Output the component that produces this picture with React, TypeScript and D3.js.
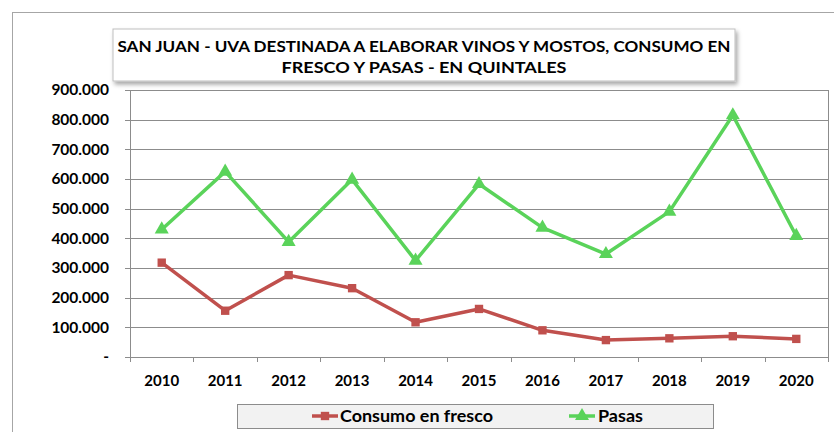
import React from "react";
import * as d3 from "d3";

const width = 834;
const height = 432;
const margin = { top: 90, right: 6, bottom: 75, left: 130 };

const years = ["2010", "2011", "2012", "2013", "2014", "2015", "2016", "2017", "2018", "2019", "2020"];
const consumoEnFresco = [318000, 156000, 276000, 232000, 117000, 162000, 90000, 57000, 63000, 70000, 61000];
const pasas = [430000, 625000, 388000, 598000, 325000, 583000, 436000, 347000, 490000, 815000, 408000];
const yTicks = [0, 100000, 200000, 300000, 400000, 500000, 600000, 700000, 800000, 900000];
const titleLines = [
  "SAN JUAN - UVA DESTINADA A ELABORAR VINOS Y MOSTOS, CONSUMO EN",
  "FRESCO Y PASAS - EN QUINTALES",
];
const titleWidths = [613, 285];

const red = "#c0504d";
const green = "#5ad35a";
const font = "Lato, 'Open Sans', sans-serif";

const locale = d3.formatLocale({ decimal: ",", thousands: ".", grouping: [3], currency: ["$", ""] });
const fmt = locale.format(",.0f");

export default function App() {
  const x = d3.scaleBand().domain(years).range([margin.left, width - margin.right]).padding(0);
  const y = d3.scaleLinear().domain([0, 900000]).range([height - margin.bottom, margin.top]);
  const cx = (d: string) => (x(d) as number) + x.bandwidth() / 2;

  const line = d3.line<number>().x((_, i) => cx(years[i])).y(d => y(d));
  const tri = d3.symbol().type(d3.symbolTriangle).size(85)();
  const sq = d3.symbol().type(d3.symbolSquare).size(70)();

  const x0 = margin.left;
  const x1 = width - margin.right;
  const y0 = height - margin.bottom;

  return (
    <svg width={width} height={height} style={{ position: "absolute", left: 0, top: 0 }}>
      <defs>
        <filter id="sh" x="-5%" y="-20%" width="115%" height="160%">
          <feDropShadow dx="2" dy="3" stdDeviation="2" floodColor="#000" floodOpacity="0.35" />
        </filter>
      </defs>
      <rect x={0} y={0} width={width} height={height} fill="#fff" />
      <rect x={12.5} y={12.5} width={width} height={height} fill="#fff" stroke="#a6a6a6" />

      {/* gridlines */}
      {yTicks.map(t => (
        <line key={t} x1={x0} x2={x1} y1={Math.round(y(t)) + 0.5} y2={Math.round(y(t)) + 0.5} stroke="#8c8c8c" />
      ))}
      <line x1={x1 + 0.5} x2={x1 + 0.5} y1={margin.top} y2={y0} stroke="#8c8c8c" />
      {/* axes */}
      <line x1={x0 + 0.5} x2={x0 + 0.5} y1={margin.top} y2={y0} stroke="#8c8c8c" />
      <line x1={x0} x2={x1} y1={Math.round(y0) + 0.5} y2={Math.round(y0) + 0.5} stroke="#8c8c8c" />
      {yTicks.map(t => (
        <g key={"yt" + t}>
          <line x1={x0 - 5} x2={x0} y1={Math.round(y(t)) + 0.5} y2={Math.round(y(t)) + 0.5} stroke="#8c8c8c" />
          <text x={109} y={y(t)} dy="0.35em" textAnchor="end" fontFamily={font} fontWeight="bold" fontSize={15.5} fill="#000">
            {t === 0 ? "-" : fmt(t)}
          </text>
        </g>
      ))}
      {years.map(d => (
        <g key={"xt" + d}>
          <line x1={Math.round(x(d) as number) + 0.5} x2={Math.round(x(d) as number) + 0.5} y1={y0} y2={y0 + 5} stroke="#8c8c8c" />
          <text x={cx(d)} y={381} dy="0.35em" textAnchor="middle" fontFamily={font} fontWeight="bold" fontSize={15} fill="#000">
            {d}
          </text>
        </g>
      ))}
      <line x1={x1 + 0.5} x2={x1 + 0.5} y1={y0} y2={y0 + 5} stroke="#8c8c8c" />

      {/* series */}
      <path d={line(consumoEnFresco) || ""} fill="none" stroke={red} strokeWidth={3.5} strokeLinejoin="round" />
      {consumoEnFresco.map((v, i) => (
        <path key={"r" + i} d={sq || ""} transform={`translate(${cx(years[i])},${y(v)})`} fill={red} />
      ))}
      <path d={line(pasas) || ""} fill="none" stroke={green} strokeWidth={3.5} strokeLinejoin="round" />
      {pasas.map((v, i) => (
        <path key={"g" + i} d={tri || ""} transform={`translate(${cx(years[i])},${y(v)})`} fill={green} />
      ))}

      {/* title */}
      <rect x={113} y={29} width={622} height={52} fill="#fff" stroke="#bfbfbf" filter="url(#sh)" />
      {titleLines.map((t, i) => (
        <text key={i} x={424} y={46 + i * 21} dy="0.35em" textAnchor="middle" fontFamily={font} fontWeight="bold" fontSize={16}
          fill="#000" textLength={titleWidths[i]} lengthAdjust="spacingAndGlyphs">
          {t}
        </text>
      ))}

      {/* legend */}
      <rect x={237.5} y={404.5} width={476} height={24} fill="#f2f2f2" stroke="#8c8c8c" />
      <line x1={312} x2={338} y1={416} y2={416} stroke={red} strokeWidth={3.5} />
      <path d={sq || ""} transform="translate(325,416)" fill={red} />
      <text x={340} y={416} dy="0.35em" fontFamily={font} fontWeight="bold" fontSize={17} fill="#000"
        textLength={153} lengthAdjust="spacingAndGlyphs">Consumo en fresco</text>
      <line x1={569} x2={595} y1={416} y2={416} stroke={green} strokeWidth={3.5} />
      <path d={tri || ""} transform="translate(582,416)" fill={green} />
      <text x={598} y={416} dy="0.35em" fontFamily={font} fontWeight="bold" fontSize={17} fill="#000"
        textLength={45} lengthAdjust="spacingAndGlyphs">Pasas</text>
    </svg>
  );
}
